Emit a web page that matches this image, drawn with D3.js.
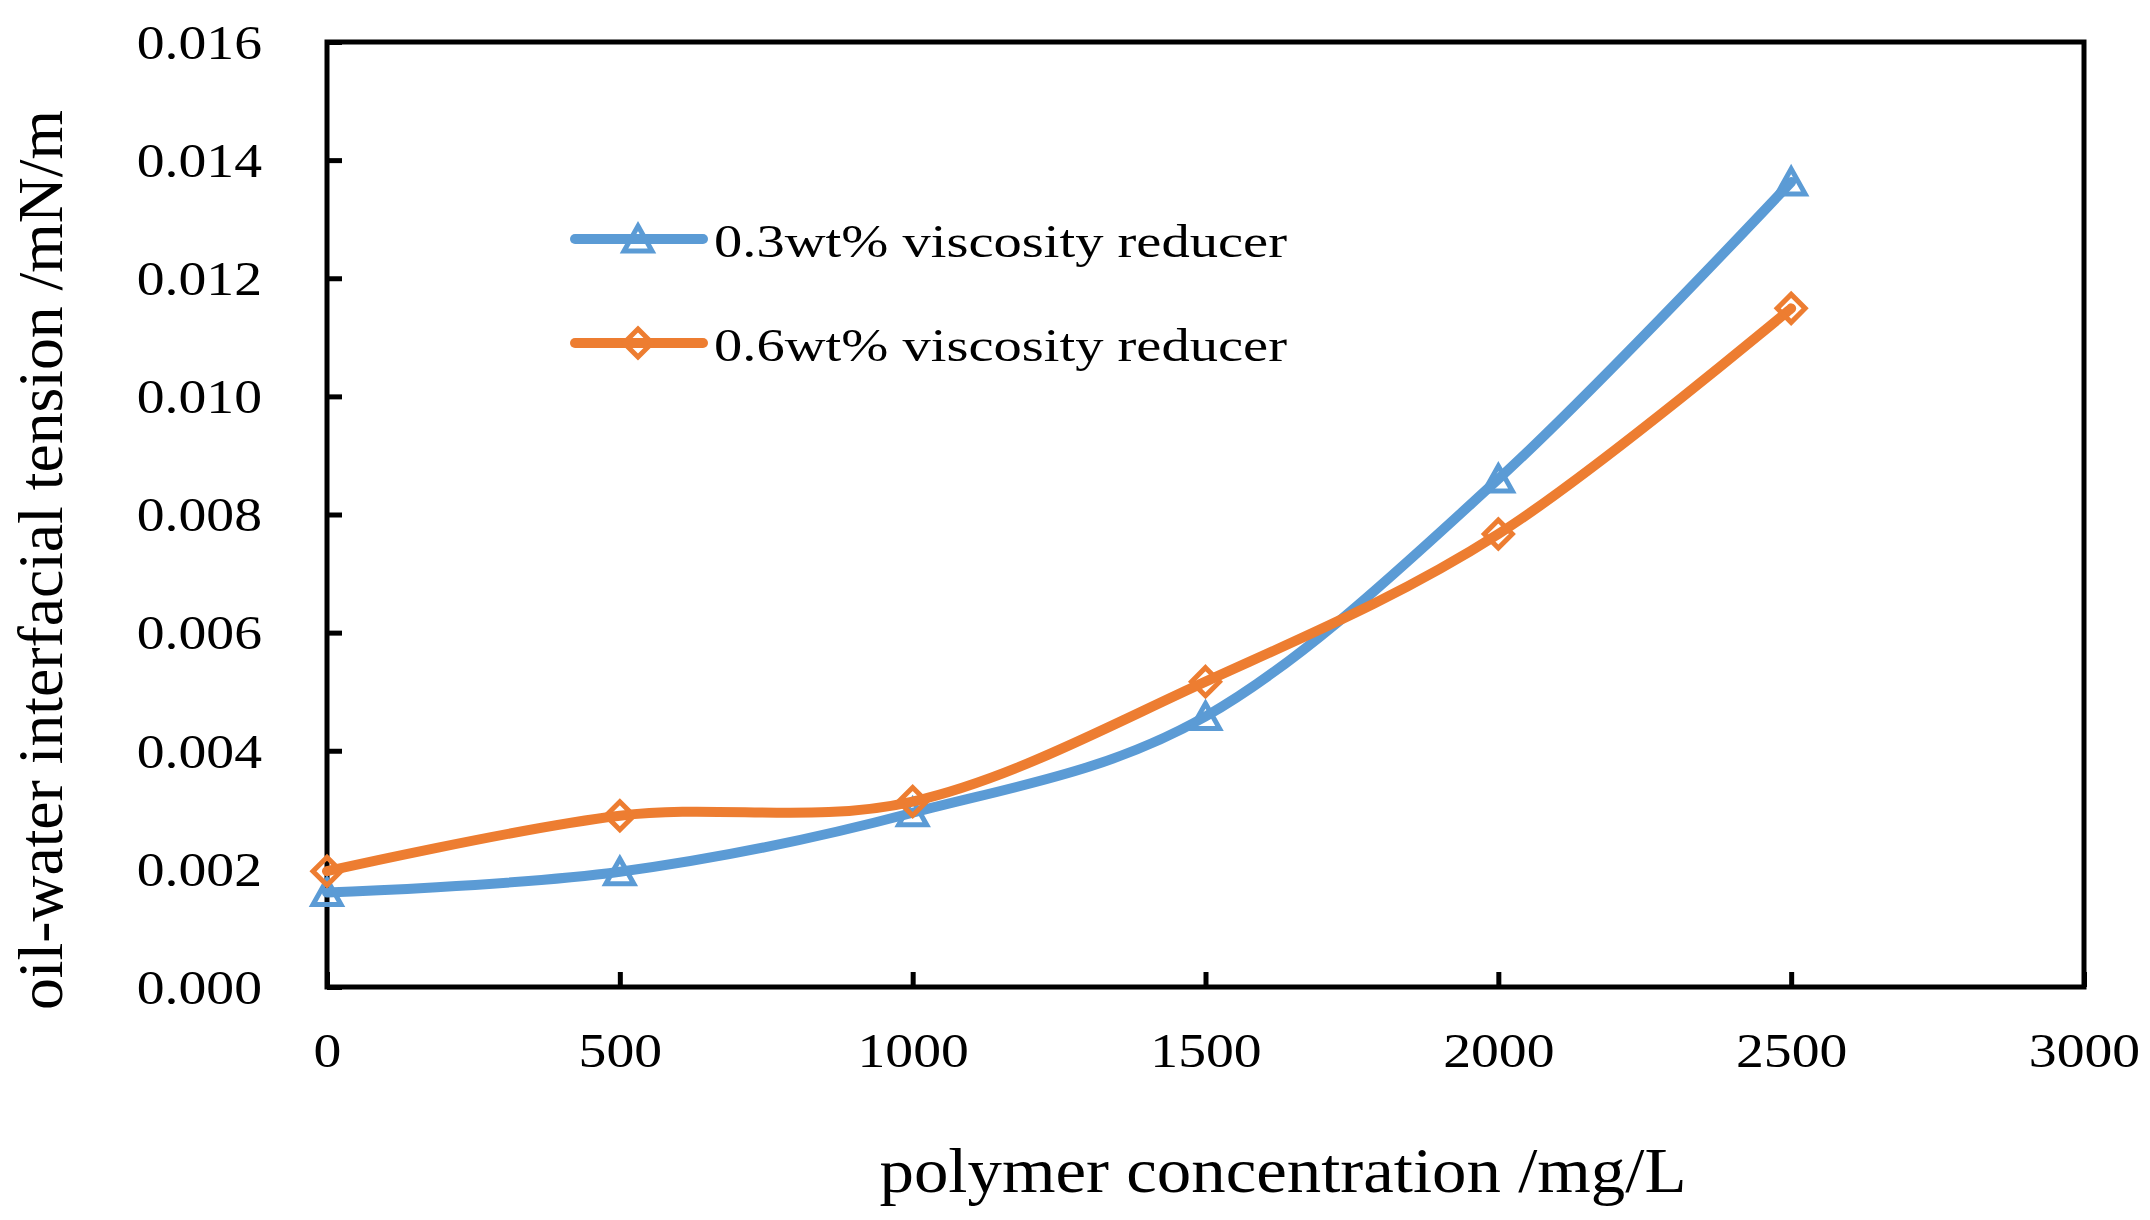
<!DOCTYPE html>
<html>
<head>
<meta charset="utf-8">
<script src="https://cdn.jsdelivr.net/npm/d3@7"></script>
<style>
  body { margin: 0; background: #fff; }
  text { font-family: "Liberation Serif", "Times New Roman", serif; fill: #000; }
</style>
</head>
<body>
<svg width="2150" height="1220"></svg>
<script>

// data
var concentration = [0, 500, 1000, 1500, 2000, 2500];
var ift03 = [0.0016, 0.00195, 0.00295, 0.00458, 0.0086, 0.01363];
var ift06 = [0.00196, 0.0029, 0.00314, 0.00517, 0.00767, 0.01149];
var seriesNames = ['0.3wt% viscosity reducer', '0.6wt% viscosity reducer'];
var xTicks = [0, 500, 1000, 1500, 2000, 2500, 3000];
var yTicks = [0, 0.002, 0.004, 0.006, 0.008, 0.010, 0.012, 0.014, 0.016];

var blue = '#5b9bd5', orange = '#ed7d31';

window.onload = function() {
   var svg = d3.select('svg');

   var left = 327, right = 2084, top = 42, bottom = 987;

   var x = d3.scaleLinear().domain([0, 3000]).range([left, right]);
   var y = d3.scaleLinear().domain([0, 0.016]).range([bottom, top]);

   // triangle / diamond marker paths
   var tri = 'M0,-13L14,12L-14,12Z';
   var dia = 'M0,-14L14,0L0,14L-14,0Z';

   var series = [
      {name: seriesNames[0], values: ift03, color: blue, marker: tri},
      {name: seriesNames[1], values: ift06, color: orange, marker: dia}
   ];

   // y axis, ticks pointing inward
   var yAxis = svg.append('g')
      .attr('transform', 'translate(' + left + ',0)')
      .call(d3.axisLeft(y).tickValues(yTicks).tickFormat(d3.format('.3f'))
            .tickSizeInner(-15).tickSizeOuter(0));
   yAxis.select('.domain').remove();
   yAxis.selectAll('line').attr('stroke', '#000').attr('stroke-width', 5);
   yAxis.selectAll('text')
      .attr('x', 0).attr('dy', '0.34em')
      .attr('transform', 'translate(-65,0) scale(1.16,1)')
      .style('font-size', '48px');

   // x axis
   var xAxis = svg.append('g')
      .attr('transform', 'translate(0,' + bottom + ')')
      .call(d3.axisBottom(x).tickValues(xTicks).tickFormat(d3.format('d'))
            .tickSizeInner(-15).tickSizeOuter(0));
   xAxis.select('.domain').remove();
   xAxis.selectAll('line').attr('stroke', '#000').attr('stroke-width', 5);
   xAxis.selectAll('text')
      .attr('y', 80).attr('dy', 0)
      .attr('transform', 'scale(1.16,1)')
      .style('font-size', '48px');
   svg.selectAll('g').attr('font-family', null).attr('font-size', null);

   // plot frame
   svg.append('rect')
      .attr('x', left).attr('y', top)
      .attr('width', right - left).attr('height', bottom - top)
      .attr('fill', 'none').attr('stroke', '#000').attr('stroke-width', 5);

   // smoothed lines like excel
   var line = d3.line()
      .x(function(d, i) { return x(concentration[i]); })
      .y(function(d) { return y(d); })
      .curve(d3.curveCardinal.tension(0));

   series.forEach(function(s) {
      svg.append('path')
         .attr('d', line(s.values))
         .attr('fill', 'none')
         .attr('stroke', s.color)
         .attr('stroke-width', 10)
         .attr('stroke-linecap', 'round');

      svg.selectAll(null)
         .data(s.values)
         .enter()
         .append('path')
         .attr('d', s.marker)
         .attr('transform', function(d, i) {
            return 'translate(' + x(concentration[i]) + ',' + y(d) + ')';
         })
         .attr('fill', 'none')
         .attr('stroke', s.color)
         .attr('stroke-width', 5);
   });

   // legend
   var legY = [239, 343];
   series.forEach(function(s, i) {
      var g = svg.append('g').attr('transform', 'translate(0,' + legY[i] + ')');
      g.append('line')
         .attr('x1', 575).attr('x2', 703)
         .attr('stroke', s.color).attr('stroke-width', 10)
         .attr('stroke-linecap', 'round');
      g.append('path')
         .attr('d', s.marker)
         .attr('transform', 'translate(638,0)')
         .attr('fill', 'none').attr('stroke', s.color).attr('stroke-width', 5);
      g.append('text')
         .attr('x', 714).attr('y', 18)
         .attr('textLength', 573).attr('lengthAdjust', 'spacingAndGlyphs')
         .style('font-size', '47px')
         .text(s.name);
   });

   // axis titles
   svg.append('text')
      .attr('x', 1283).attr('y', 1192)
      .attr('text-anchor', 'middle')
      .attr('textLength', 807).attr('lengthAdjust', 'spacingAndGlyphs')
      .style('font-size', '63px')
      .text('polymer concentration /mg/L');

   svg.append('text')
      .attr('transform', 'translate(62,560) rotate(-90)')
      .attr('text-anchor', 'middle')
      .attr('textLength', 900).attr('lengthAdjust', 'spacingAndGlyphs')
      .style('font-size', '63px')
      .text('oil-water interfacial tension /mN/m');
};
</script>
</body>
</html>
